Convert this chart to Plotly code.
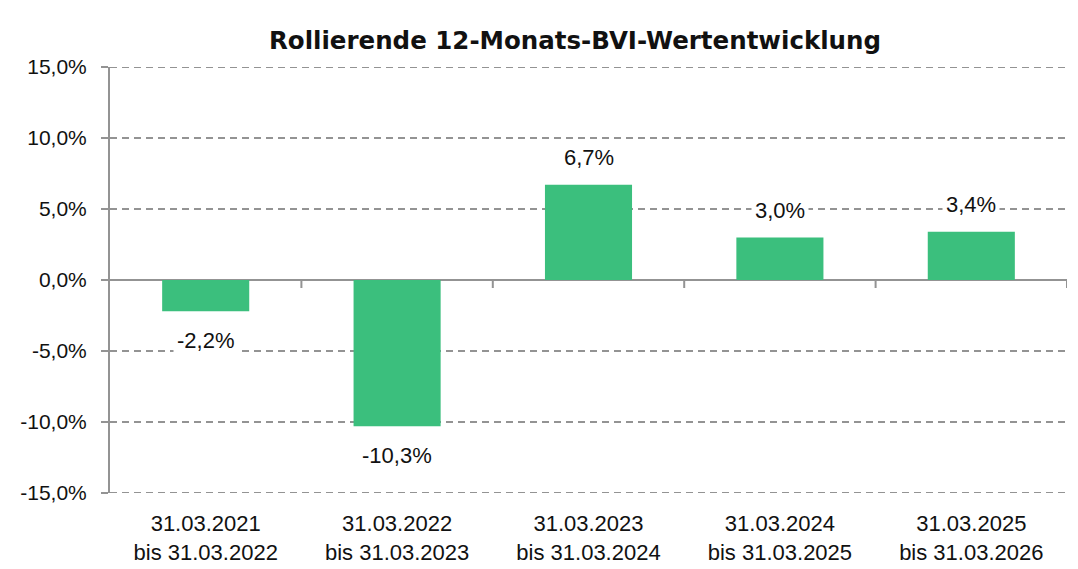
import plotly.graph_objects as go

categories = ["31.03.2021<br>bis 31.03.2022", "31.03.2022<br>bis 31.03.2023",
              "31.03.2023<br>bis 31.03.2024", "31.03.2024<br>bis 31.03.2025",
              "31.03.2025<br>bis 31.03.2026"]
values = [-2.2, -10.3, 6.7, 3.0, 3.4]
value_labels = ["-2,2%", "-10,3%", "6,7%", "3,0%", "3,4%"]
y_ticks = [-15, -10, -5, 0, 5, 10, 15]
y_tick_labels = ["-15,0%", "-10,0%", "-5,0%", "0,0%", "5,0%", "10,0%", "15,0%"]
title = "Rollierende 12-Monats-BVI-Wertentwicklung"

GREEN = "#3BBF7D"
GRAY = "#939393"
FONT = "Liberation Sans, Arial, sans-serif"
DASH = "7px,5px"

# page body has an 8px default margin -> figure sized to fit inside the window
W, H = 1070, 561

x_idx = list(range(len(categories)))

fig = go.Figure()
fig.add_trace(go.Bar(x=x_idx, y=values, marker=dict(color=GREEN, line=dict(width=0)),
                     hoverinfo="skip"))

# dashed gridlines at the range ends (plotly omits them)
for yv in (y_ticks[0], y_ticks[-1]):
    fig.add_shape(type="line", xref="paper", yref="y", x0=0, x1=1, y0=yv, y1=yv,
                  line=dict(color=GRAY, width=2, dash=DASH), layer="below")

for i, (v, lab) in enumerate(zip(values, value_labels)):
    fig.add_annotation(x=i, y=v, text=lab, showarrow=False,
                       yshift=27 if v >= 0 else -29,
                       font=dict(family=FONT, size=22, color="#111"),
                       bgcolor="white", borderpad=3)

# small ticks on the zero line at category boundaries
for b in [i - 0.5 for i in range(1, len(categories) + 1)]:
    fig.add_shape(type="line", xref="x", yref="y", x0=b, x1=b,
                  ysizemode="pixel", yanchor=0, y0=0, y1=-8,
                  line=dict(color=GRAY, width=2))

fig.update_layout(
    width=W, height=H,
    margin=dict(l=102, r=11, t=59, b=76, autoexpand=False),
    paper_bgcolor="white", plot_bgcolor="white",
    showlegend=False,
    bargap=0.545,
    title=dict(text="<b>" + title + "</b>", x=567 / W, xanchor="center",
               y=1 - 32 / H, yanchor="middle", xref="container", yref="container",
               font=dict(family="DejaVu Sans, sans-serif", size=24.5, color="#111")),
    xaxis=dict(range=[-0.5, len(categories) - 0.5], tickvals=x_idx, ticktext=categories,
               showgrid=False, zeroline=False, showline=False, ticks="",
               automargin=False, ticklabelstandoff=15,
               tickfont=dict(family=FONT, size=22, color="#111")),
    yaxis=dict(range=[-15, 15], tickvals=y_ticks, ticktext=y_tick_labels,
               showgrid=True, gridcolor=GRAY, gridwidth=2, griddash=DASH,
               zeroline=True, zerolinecolor=GRAY, zerolinewidth=2,
               showline=True, linecolor=GRAY, linewidth=2,
               ticks="outside", ticklen=7, tickwidth=2, tickcolor=GRAY,
               automargin=False, ticklabelstandoff=10,
               tickfont=dict(family=FONT, size=21, color="#111")),
)

fig.write_html("out.html")
